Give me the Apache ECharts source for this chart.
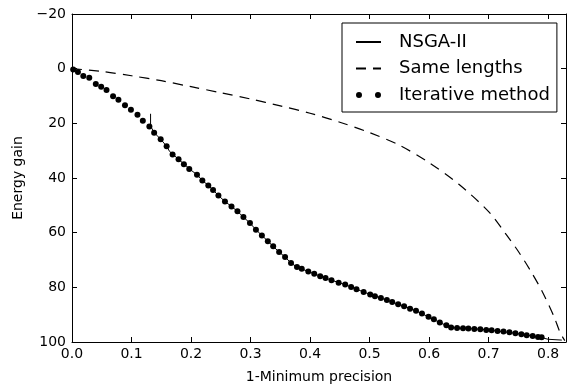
<!DOCTYPE html>
<html>
<head>
<meta charset="utf-8">
<script src="https://cdn.jsdelivr.net/npm/echarts@6/dist/echarts.min.js"></script>
<style>
html,body{margin:0;padding:0;background:#fff;}
#chart{width:573px;height:387px;}
</style>
</head>
<body>
<div id="chart"></div>
<script>
// ---- data ----
const xTicks = [0, 0.1, 0.2, 0.3, 0.4, 0.5, 0.6, 0.7, 0.8];
const yTicks = [-20, 0, 20, 40, 60, 80, 100];
const seriesNames = ['NSGA-II', 'Same lengths', 'Iterative method'];

const nsgaX = [0.132,0.132,0.138,0.149,0.159,0.164,0.169,0.179,0.189,0.198,0.210,0.219,0.229,0.237,0.246,0.257,0.268,0.278,0.288,0.299,0.309,0.319,0.329,0.338,0.348,0.358,0.368,0.378,0.397,0.417,0.436,0.459,0.478,0.501,0.519,0.538,0.558,0.578,0.599,0.618,0.637,0.657,0.686,0.715,0.745,0.774,0.789,0.800,0.823];
const nsgaY = [16.5,21.0,23.4,25.8,28.4,30.3,31.2,33.2,35.0,36.8,38.8,40.9,42.7,44.4,46.4,48.6,50.4,52.2,54.3,56.5,58.9,61.0,63.1,65.0,67.1,68.9,71.1,72.6,74.2,75.9,77.4,79.0,80.7,82.6,83.9,85.4,86.9,88.6,90.8,92.9,94.7,95.0,95.3,96.0,96.8,97.8,98.4,99.0,99.3];

const sameX = [0,0.05,0.10,0.15,0.20,0.25,0.30,0.35,0.40,0.45,0.50,0.55,0.60,0.65,0.70,0.73,0.75,0.77,0.79,0.81,0.82,0.828];
const sameY = [0,1.0,2.6,4.4,6.6,8.8,11.1,13.6,16.3,19.6,23.4,28.0,34.4,42.3,52.3,60.8,66.9,73.8,81.5,90.8,96.5,99.5];

const iterX = [0.002,0.010,0.019,0.029,0.040,0.049,0.058,0.069,0.078,0.089,0.099,0.110,0.119,0.130,0.138,0.149,0.159,0.169,0.179,0.188,0.197,0.210,0.219,0.229,0.237,0.246,0.257,0.268,0.278,0.288,0.299,0.309,0.319,0.329,0.338,0.348,0.358,0.368,0.378,0.386,0.397,0.407,0.417,0.426,0.436,0.448,0.459,0.469,0.478,0.490,0.501,0.509,0.519,0.529,0.538,0.548,0.558,0.568,0.578,0.588,0.599,0.608,0.618,0.629,0.637,0.647,0.657,0.666,0.676,0.686,0.696,0.705,0.715,0.725,0.735,0.745,0.755,0.764,0.774,0.783,0.789];
const iterY = [0.3,1.2,2.7,3.3,5.6,6.6,7.8,10.1,11.4,13.4,15.0,16.9,19.1,21.2,23.4,25.8,28.4,31.4,33.1,35.0,36.7,38.8,40.9,42.7,44.4,46.4,48.6,50.4,52.2,54.3,56.5,58.9,61.0,63.1,65.0,67.1,68.9,71.1,72.6,73.2,74.2,75.0,75.9,76.6,77.4,78.3,79.0,79.9,80.7,81.7,82.6,83.3,83.9,84.6,85.4,86.2,86.9,87.8,88.6,89.6,90.8,91.7,92.9,93.9,94.7,94.9,95.0,95.1,95.2,95.3,95.6,95.7,96.0,96.2,96.4,96.8,97.2,97.5,97.8,98.2,98.3];

// ---- chart ----
const zip = (a, b) => a.map((v, i) => [v, b[i]]);
const FONT = 'DejaVu Sans';
const xFmt = v => {
  const hit = xTicks.find(t => Math.abs(t - v) < 1e-6);
  return hit === undefined ? '' : hit.toFixed(1);
};
const yFmt = v => {
  const hit = yTicks.find(t => Math.abs(t - v) < 1e-6);
  if (hit === undefined) return '';
  return hit < 0 ? '\u2212' + Math.abs(hit) : String(hit);
};
const axisLineStyle = { show: true, onZero: false, lineStyle: { color: '#000', width: 1 } };
const tickStyle = { show: true, inside: true, length: 5, lineStyle: { color: '#000', width: 1 } };
const hiddenSymbol = { color: 'rgba(0,0,0,0)', borderWidth: 0 };

const chart = echarts.init(document.getElementById('chart'), null, { renderer: 'canvas' });
chart.setOption({
  animation: false,
  backgroundColor: '#fff',
  grid: { left: 72, right: 7, top: 14, bottom: 45, containLabel: false, outerBoundsMode: 'none' },
  legend: {
    orient: 'vertical',
    left: 342,
    top: 23,
    padding: [9, 7, 7, 13],
    itemGap: 6.5,
    itemWidth: 25,
    itemHeight: 6,
    borderColor: '#000',
    borderWidth: 1,
    borderRadius: 0,
    backgroundColor: '#fff',
    textStyle: { fontFamily: FONT, fontSize: 18, color: '#000', lineHeight: 20, padding: [0, 0, 0, 13] },
    data: [
      { name: seriesNames[0], itemStyle: hiddenSymbol },
      { name: seriesNames[1], itemStyle: hiddenSymbol },
      { name: seriesNames[2], icon: 'path://M0,3A3,3 0 1,0 6,3A3,3 0 1,0 0,3ZM19,3A3,3 0 1,0 25,3A3,3 0 1,0 19,3Z', itemStyle: { color: '#000', opacity: 1 } }
    ]
  },
  xAxis: [
    {
      type: 'value', min: 0, max: 0.83, interval: 0.1, position: 'bottom',
      name: '1-Minimum precision', nameLocation: 'middle', nameGap: 28,
      nameTextStyle: { fontFamily: FONT, fontSize: 14, color: '#000' },
      axisLine: axisLineStyle, axisTick: tickStyle,
      axisLabel: { fontFamily: FONT, fontSize: 14, color: '#000', margin: 5, formatter: xFmt, showMaxLabel: false },
      splitLine: { show: false }
    },
    {
      type: 'value', min: 0, max: 0.83, interval: 0.1, position: 'top',
      axisLine: axisLineStyle, axisTick: tickStyle,
      axisLabel: { show: false }, splitLine: { show: false }
    }
  ],
  yAxis: [
    {
      type: 'value', min: -20, max: 100, interval: 20, inverse: true, position: 'left',
      name: 'Energy gain', nameLocation: 'middle', nameGap: 38, nameRotate: 90,
      nameTextStyle: { fontFamily: FONT, fontSize: 14, color: '#000' },
      axisLine: axisLineStyle, axisTick: tickStyle,
      axisLabel: { fontFamily: FONT, fontSize: 14, color: '#000', margin: 6, formatter: yFmt },
      splitLine: { show: false }
    },
    {
      type: 'value', min: -20, max: 100, interval: 20, inverse: true, position: 'right',
      axisLine: axisLineStyle, axisTick: tickStyle,
      axisLabel: { show: false }, splitLine: { show: false }
    }
  ],
  series: [
    {
      name: seriesNames[0], type: 'line', xAxisIndex: 0, yAxisIndex: 0,
      data: zip(nsgaX, nsgaY), symbol: 'none', showSymbol: false,
      lineStyle: { color: '#000', width: 1 }, itemStyle: { color: '#000' }, z: 3
    },
    {
      name: seriesNames[1], type: 'line', xAxisIndex: 0, yAxisIndex: 0,
      data: zip(sameX, sameY), symbol: 'none', showSymbol: false, smooth: 0.3,
      lineStyle: { color: '#000', width: 1.2, type: [10, 7] }, itemStyle: { color: '#000' }, z: 2
    },
    {
      name: seriesNames[2], type: 'scatter', xAxisIndex: 0, yAxisIndex: 0,
      data: zip(iterX, iterY), symbol: 'circle', symbolSize: 6,
      itemStyle: { color: '#000', opacity: 1 }, z: 4
    }
  ]
});
</script>
</body>
</html>
